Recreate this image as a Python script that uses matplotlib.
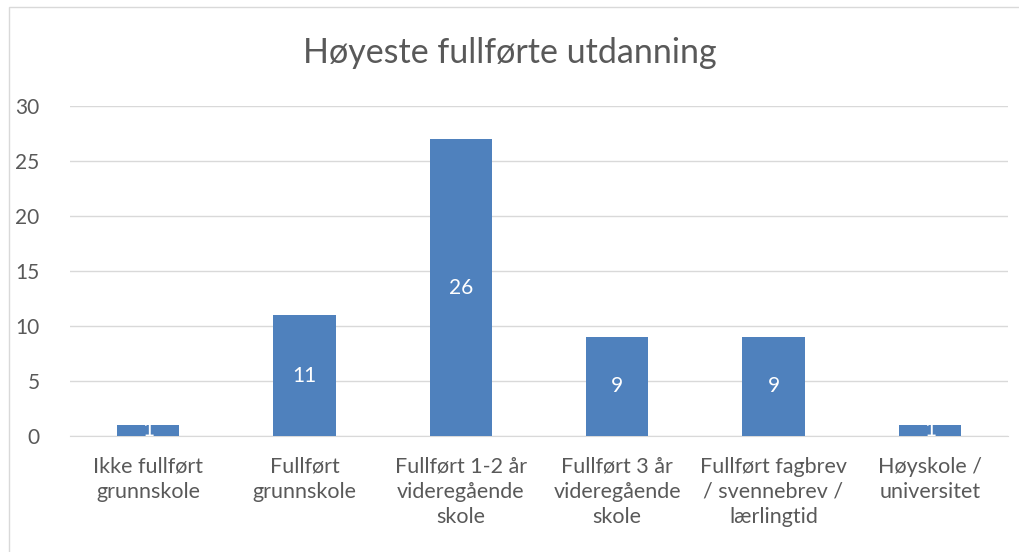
import matplotlib.pyplot as plt
from matplotlib.patches import Rectangle

categories = ['Ikke fullført\ngrunnskole', 'Fullført\ngrunnskole', 'Fullført 1-2 år\nvideregående\nskole',
              'Fullført 3 år\nvideregående\nskole', 'Fullført fagbrev\n/ svennebrev /\nlærlingtid',
              'Høyskole /\nuniversitet']
values = [1, 11, 27, 9, 9, 1]
value_labels = ['1', '11', '26', '9', '9', '1']

plt.rcParams['font.family'] = ['Lato', 'DejaVu Sans']
grey = '#595959'

fig = plt.figure(figsize=(10.2, 5.52), dpi=100)
ax = fig.add_axes([70 / 1020, 1 - 436 / 552, 938 / 1020, 330 / 552])

x = list(range(len(categories)))
bars = ax.bar(x, values, width=0.4, color='#4f81bd', zorder=3)
ax.bar_label(bars, labels=value_labels, label_type='center', color='white', fontsize=15)

ax.set_xlim(-0.5, len(categories) - 0.5)
ax.set_ylim(0, 30)
ax.set_yticks(range(0, 31, 5))
ax.set_xticks(x)
ax.set_xticklabels(categories, linespacing=1.32)
ax.tick_params(axis='y', length=0, pad=22, labelsize=15, labelcolor=grey)
ax.tick_params(axis='x', length=0, pad=15, labelsize=15.5, labelcolor=grey)
ax.grid(axis='y', color='#d9d9d9', linewidth=1, zorder=0)
for s in ['top', 'right', 'left']:
    ax.spines[s].set_visible(False)
ax.spines['bottom'].set_color('#d9d9d9')

fig.text(0.5, 1 - 53 / 552, 'Høyeste fullførte utdanning', ha='center', va='center',
         fontsize=24.5, color=grey)
fig.patches.append(Rectangle((9 / 1020, -0.1), 1.2, 1 - 7 / 552 + 0.1, transform=fig.transFigure,
                             fill=False, edgecolor='#d9d9d9', linewidth=1))

plt.savefig('out.png')
